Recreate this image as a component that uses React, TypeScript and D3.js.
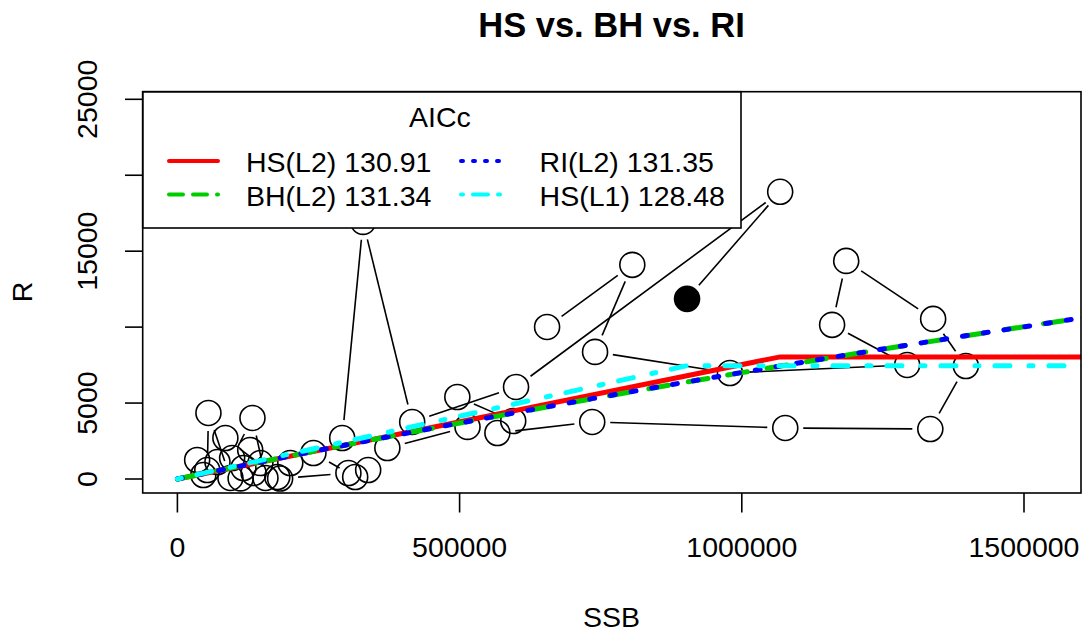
import React from "react";
import * as d3 from "d3";

// Observed stock-recruitment pairs (time order), last one highlighted
const ssbValues = [
  655000, 806000, 740000, 979000, 1293000, 1160000, 1185000, 1339000, 1397000, 1334000,
  1077000, 735000, 567000, 595000, 496000, 514000, 372000, 338000, 315000, 241000,
  200000, 156000, 133000, 97000, 117000, 129000, 147000, 135000, 112000, 94000,
  55000, 53000, 35000, 46000, 71000, 85000, 177000, 182000, 303000, 292000,
  329000, 416000, 600000, 1068000, 903000,
];
const recValues = [
  10010, 14100, 8370, 6980, 7510, 10150, 14360, 10540, 7440, 3290,
  3360, 3755, 3030, 3820, 5400, 3430, 2040, 590, 130, 1710,
  1050, 70, 4020, 1380, 725, 1910, 1050, 395, 40, 70,
  4350, 590, 1250, 265, 1120, 2700, 130, 30, 395, 2700,
  16930, 3755, 6060, 18910, 11860,
];

// Fitted curves
const hsL2Ssb = [0, 1068000, 1620000];
const hsL2R = [0, 8040, 8040];
const hsL1Ssb = [0, 903000, 1620000];
const hsL1R = [0, 7464, 7464];
const curveSsb = [0, 200000, 400000, 600000, 800000, 1000000, 1200000, 1400000, 1600000, 1620000];
const bhR = [0, 1518, 2973, 4371, 5713, 7004, 8246, 9443, 10595, 10705];
const riR = [0, 1515, 2973, 4374, 5720, 7013, 8254, 9446, 10588, 10700];

const xTicks = [0, 500000, 1000000, 1500000];
const yTicks = [0, 5000, 10000, 15000, 20000, 25000];
const yTickLabels = ["0", "5000", "", "15000", "", "25000"];

const legendItems = [
  { label: "HS(L2) 130.91", color: "#FF0000", dash: "", col: 0, row: 0 },
  { label: "BH(L2) 131.34", color: "#00CD00", dash: "14 10", col: 0, row: 1 },
  { label: "RI(L2) 131.35", color: "#0000FF", dash: "2 10", col: 1, row: 0 },
  { label: "HS(L1) 128.48", color: "#00FFFF", dash: "2 10 15 10", col: 1, row: 1 },
];

const FONT = "'Liberation Sans', Arial, Helvetica, sans-serif";

export default function App() {
  const W = 1084;
  const H = 632;
  const box = { left: 142.7, right: 1081, top: 91.7, bottom: 493 };

  const x = d3.scaleLinear().domain([0, 1500000]).range([177.4, 1024]);
  const y = d3.scaleLinear().domain([0, 25000]).range([479, 99.3]);

  const pts = ssbValues.map((s, i) => [x(s), y(recValues[i])] as [number, number]);
  const gap = 18;
  const segs: { x1: number; y1: number; x2: number; y2: number }[] = [];
  for (let i = 0; i < pts.length - 1; i++) {
    const [ax, ay] = pts[i];
    const [bx, by] = pts[i + 1];
    const d = Math.hypot(bx - ax, by - ay);
    if (d <= 2 * gap) continue;
    const ux = (bx - ax) / d;
    const uy = (by - ay) / d;
    segs.push({ x1: ax + ux * gap, y1: ay + uy * gap, x2: bx - ux * gap, y2: by - uy * gap });
  }

  const lineLin = d3.line<[number, number]>().x((d) => x(d[0])).y((d) => y(d[1]));
  const lineSmooth = d3
    .line<[number, number]>()
    .x((d) => x(d[0]))
    .y((d) => y(d[1]))
    .curve(d3.curveMonotoneX);

  const hsL2 = lineLin(hsL2Ssb.map((s, i) => [s, hsL2R[i]]));
  const hsL1 = lineLin(hsL1Ssb.map((s, i) => [s, hsL1R[i]]));
  const bh = lineSmooth(curveSsb.map((s, i) => [s, bhR[i]]));
  const ri = lineSmooth(curveSsb.map((s, i) => [s, riR[i]]));

  const last = pts.length - 1;

  const legCols = [
    { lx1: 169, lx2: 218, tx: 246 },
    { lx1: 461, lx2: 506, tx: 539.6 },
  ];
  const legRows = [
    { ly: 161, ty: 172 },
    { ly: 194.5, ty: 206 },
  ];

  return (
    <svg width={W} height={H} style={{ display: "block", position: "absolute", left: 0, top: 0 }} fontFamily={FONT}>
      <rect x={0} y={0} width={W} height={H} fill="#fff" />
      <defs>
        <clipPath id="plotclip">
          <rect x={box.left} y={box.top} width={box.right - box.left} height={box.bottom - box.top} />
        </clipPath>
      </defs>

      {/* title */}
      <text x={611.5} y={37} textAnchor="middle" fontSize={34.5} fontWeight="bold" fill="#000">
        HS vs. BH vs. RI
      </text>

      {/* points and connecting lines */}
      <g clipPath="url(#plotclip)">
        {segs.map((s, i) => (
          <line key={"s" + i} x1={s.x1} y1={s.y1} x2={s.x2} y2={s.y2} stroke="#000" strokeWidth={1.6} />
        ))}
        {pts.map((p, i) =>
          i === last ? null : (
            <circle key={"c" + i} cx={p[0]} cy={p[1]} r={12.5} fill="none" stroke="#000" strokeWidth={1.6} />
          )
        )}
        <circle cx={pts[last][0]} cy={pts[last][1]} r={12.5} fill="#000" stroke="#000" strokeWidth={1.6} />

        {/* fitted curves */}
        <path d={hsL2 || ""} fill="none" stroke="#FF0000" strokeWidth={5} strokeLinecap="round" />
        <path d={bh || ""} fill="none" stroke="#00CD00" strokeWidth={5} strokeDasharray="20 20" strokeLinecap="round" />
        <path d={ri || ""} fill="none" stroke="#0000FF" strokeWidth={5} strokeDasharray="5 16" strokeLinecap="round" />
        <path d={hsL1 || ""} fill="none" stroke="#00FFFF" strokeWidth={5} strokeDasharray="4 16 15 19" strokeLinecap="round" />
      </g>

      {/* legend */}
      <rect x={box.left} y={box.top} width={741 - box.left} height={228 - box.top} fill="#fff" stroke="#000" strokeWidth={1.6} />
      <text x={440} y={127} textAnchor="middle" fontSize={28.5} fill="#000">
        AICc
      </text>
      {legendItems.map((it, i) => {
        const c = legCols[it.col];
        const r = legRows[it.row];
        return (
          <g key={"l" + i}>
            <line
              x1={c.lx1}
              x2={c.lx2}
              y1={r.ly}
              y2={r.ly}
              stroke={it.color}
              strokeWidth={4}
              strokeDasharray={it.dash || undefined}
              strokeLinecap="round"
            />
            <text x={c.tx} y={r.ty} fontSize={28.5} fill="#000">
              {it.label}
            </text>
          </g>
        );
      })}

      {/* plot box */}
      <rect x={box.left} y={box.top} width={box.right - box.left} height={box.bottom - box.top} fill="none" stroke="#000" strokeWidth={1.6} />

      {/* x axis */}
      {xTicks.map((t) => (
        <g key={"xt" + t}>
          <line x1={x(t)} x2={x(t)} y1={box.bottom} y2={512.5} stroke="#000" strokeWidth={1.6} />
          <text x={x(t)} y={557} textAnchor="middle" fontSize={28.5} fill="#000">
            {String(t)}
          </text>
        </g>
      ))}
      <text x={611.5} y={627} textAnchor="middle" fontSize={28.5} fill="#000">
        SSB
      </text>

      {/* y axis */}
      {yTicks.map((t, i) => (
        <g key={"yt" + t}>
          <line x1={125} x2={box.left} y1={y(t)} y2={y(t)} stroke="#000" strokeWidth={1.6} />
          {yTickLabels[i] ? (
            <text transform={`translate(96.7,${y(t)}) rotate(-90)`} textAnchor="middle" fontSize={28.5} fill="#000">
              {yTickLabels[i]}
            </text>
          ) : null}
        </g>
      ))}
      <text transform="translate(31.7,292) rotate(-90)" textAnchor="middle" fontSize={28.5} fill="#000">
        R
      </text>
    </svg>
  );
}
